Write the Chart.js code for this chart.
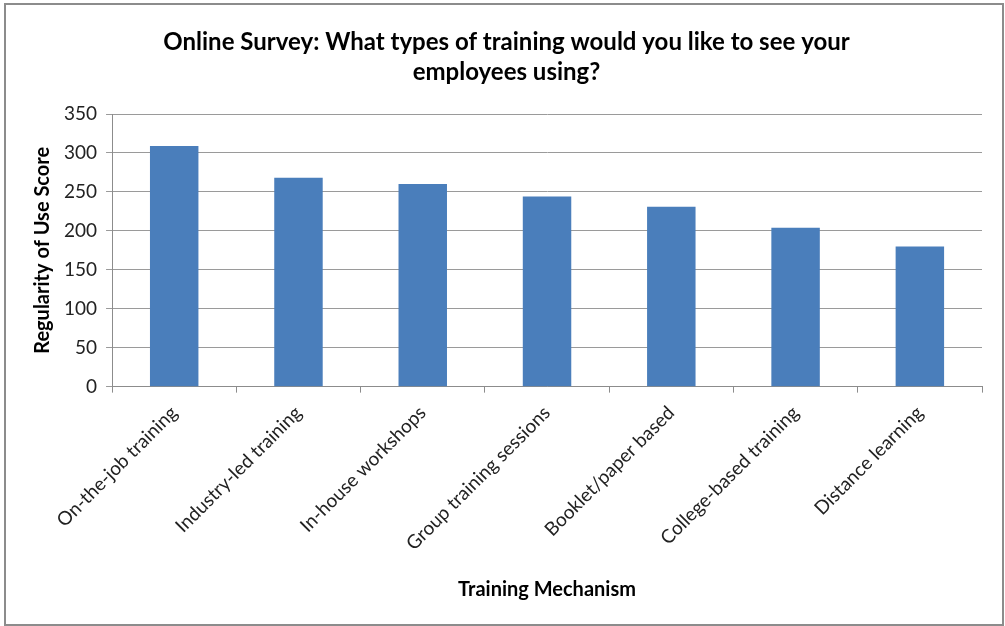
<!DOCTYPE html>
<html>
<head>
<meta charset="utf-8">
<script src="https://cdn.jsdelivr.net/npm/chart.js@4"></script>
<style>
  html, body { margin: 0; padding: 0; background: #fff; }
  #frame {
    position: absolute; left: 4px; top: 3px;
    width: 996px; height: 619px;
    border: 2px solid #8c8c8c;
  }
  #chart { display: block; }
</style>
</head>
<body>
<div id="frame"><canvas id="chart" width="996" height="619"></canvas></div>
<script>
// Chart data
const categories = [
  'On-the-job training',
  'Industry-led training',
  'In-house workshops',
  'Group training sessions',
  'Booklet/paper based',
  'College-based training',
  'Distance learning'
];
const scores = [309, 268, 260, 244, 231, 204, 180];
const yTicks = [0, 50, 100, 150, 200, 250, 300, 350];

const fontFamily = 'Lato, "Open Sans", sans-serif';

const ctx = document.getElementById('chart').getContext('2d');

new Chart(ctx, {
  type: 'bar',
  data: {
    labels: categories,
    datasets: [{
      label: 'Regularity of Use Score',
      data: scores,
      backgroundColor: '#4a7ebb',
      borderWidth: 0,
      barPercentage: 0.39,
      categoryPercentage: 1.0,
    }],
  },
  options: {
    responsive: false,
    animation: false,
    layout: {
      padding: { top: 10, left: 25, right: 20, bottom: 22 },
    },
    plugins: {
      legend: { display: false },
      tooltip: { enabled: false },
      title: {
        display: true,
        text: ['Online Survey: What types of training would you like to see your', 'employees using?'],
        color: '#000',
        font: { size: 24, weight: 'bold', family: fontFamily, lineHeight: 1.25 },
        padding: { top: 12, bottom: 27 },
      },
    },
    scales: {
      x: {
        grid: {
          display: true,
          offset: true,
          drawOnChartArea: false,
          drawTicks: true,
          tickLength: 6,
          color: '#8c8c8c',
        },
        border: { display: true, color: '#8c8c8c', width: 1 },
        ticks: {
          color: '#222',
          maxRotation: 45,
          minRotation: 45,
          padding: 9,
          font: { size: 19, family: fontFamily },
        },
        title: {
          display: true,
          text: 'Training Mechanism',
          color: '#000',
          font: { size: 20, weight: 'bold', family: fontFamily },
          padding: { top: 14, bottom: 0 },
        },
      },
      y: {
        min: 0,
        max: 350,
        afterBuildTicks: axis => {
          axis.ticks = yTicks.map(v => ({ value: v }));
        },
        grid: {
          color: '#9a9a9a',
          lineWidth: 1,
          drawTicks: true,
          tickLength: 6,
        },
        border: { display: true, color: '#8c8c8c', width: 1 },
        ticks: {
          color: '#222',
          padding: 9,
          font: { size: 19, family: fontFamily },
        },
        title: {
          display: true,
          text: 'Regularity of Use Score',
          color: '#000',
          font: { size: 20, weight: 'bold', family: fontFamily },
          padding: { top: 0, bottom: 0 },
        },
      },
    },
  },
});
</script>
</body>
</html>
